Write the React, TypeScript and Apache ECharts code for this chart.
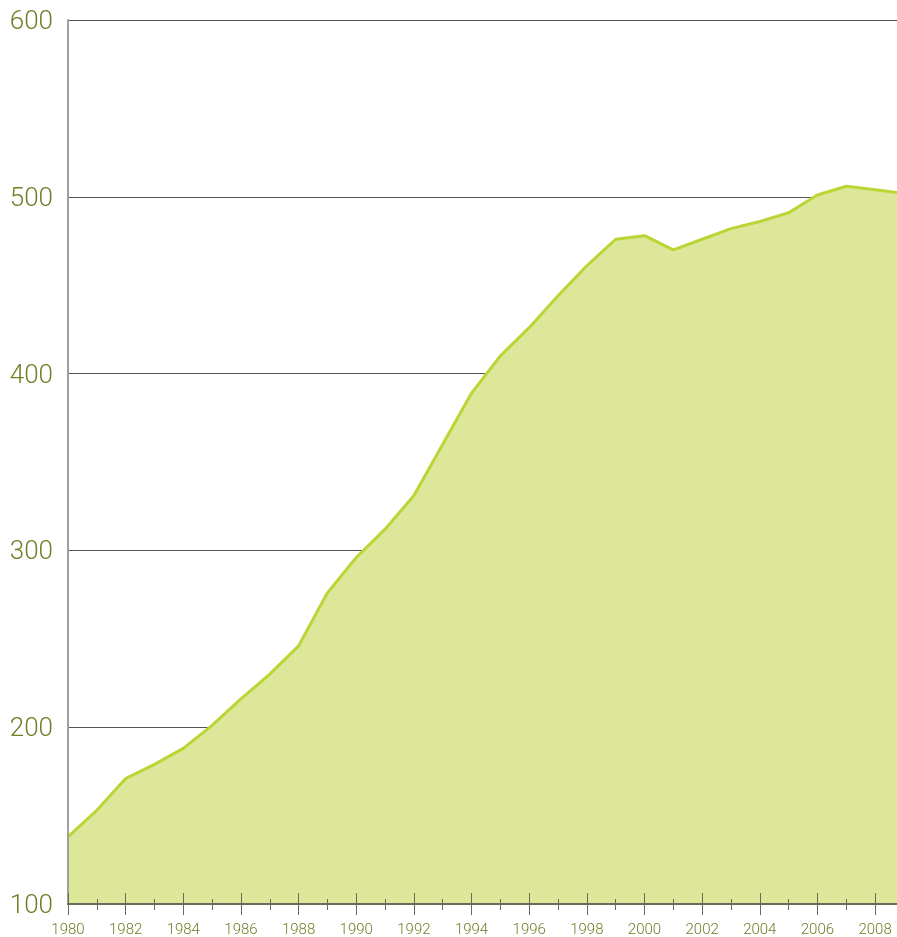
import React, { useEffect, useRef } from "react";
import * as echarts from "echarts";

const years = [1980,1981,1982,1983,1984,1985,1986,1987,1988,1989,1990,1991,1992,1993,1994,1995,1996,1997,1998,1999,2000,2001,2002,2003,2004,2005,2006,2007,2008,2009];
const values = [138,153,171,179,188,201,216,230,246,276,296,312,331,360,389,410,426,444,461,476,478,470,476,482,486,491,501,506,504,502];
const majorTicks = [1980,1982,1984,1986,1988,1990,1992,1994,1996,1998,2000,2002,2004,2006,2008];
const minorTicks = [1981,1983,1985,1987,1989,1991,1993,1995,1997,1999,2001,2003,2005,2007];
const yTicks = [100,200,300,400,500,600];

const labelColor = "#6e7f26";
const fontFamily = "Roboto, 'Liberation Sans', sans-serif";

export default function App() {
  const ref = useRef<HTMLDivElement>(null);
  useEffect(() => {
    const chart = echarts.init(ref.current!, null, { renderer: "svg" });
    const xBase = { type: "value", min: 1980, max: 2008.76, position: "bottom", splitLine: { show: false } };
    const tickAxis = (vals: number[], inside: boolean, len: number, idx: number) => ({
      ...xBase,
      axisLine: { show: false },
      axisLabel: { show: false },
      axisTick: { show: true, inside, length: len, customValues: vals, lineStyle: { color: "#6a6a5a", width: 1 } },
      z: 3,
    });
    chart.setOption({
      animation: false,
      grid: { left: 68, right: 0, top: 20, bottom: 33, containLabel: false },
      xAxis: [
        {
          ...xBase,
          z: 4,
          axisLine: { show: true, onZero: false, lineStyle: { color: "#6a6a5a", width: 2 } },
          axisTick: { show: true, inside: true, length: 11, customValues: majorTicks, lineStyle: { color: "#6a6a5a", width: 1 } },
          axisLabel: { show: true, customValues: majorTicks, color: labelColor, fontSize: 15, fontFamily, fontWeight: 300, margin: 17, formatter: (v: number) => String(v) },
        },
        tickAxis(majorTicks, false, 11, 1),
        tickAxis(minorTicks, true, 5, 2),
        tickAxis(minorTicks, false, 6, 3),
      ],
      yAxis: [
        {
          type: "value", min: 100, max: 600, interval: 100,
          axisLine: { show: false },
          axisTick: { show: false },
          axisLabel: { show: true, customValues: yTicks, color: labelColor, fontSize: 26, fontFamily, fontWeight: 300, margin: 15 },
          splitLine: { show: true, lineStyle: { color: "#555555", width: 1 } },
        },
        {
          type: "value", min: 100, max: 600, interval: 100, position: "left", z: 3,
          axisLine: { show: true, onZero: false, lineStyle: { color: "#a0a096", width: 2 } },
          axisTick: { show: false },
          axisLabel: { show: false },
          splitLine: { show: false },
        },
      ],
      series: [
        {
          type: "line",
          xAxisIndex: 0,
          yAxisIndex: 0,
          data: years.map((y, i) => [y, values[i]]),
          symbol: "none",
          clip: true,
          lineStyle: { color: "#bcd435", width: 3 },
          areaStyle: { color: "#dce799", opacity: 1, origin: "start" },
          z: 2,
        },
      ],
    });
    return () => chart.dispose();
  }, []);
  return <div ref={ref} style={{ position: "fixed", left: 0, top: 0, width: 897, height: 937 }} />;
}
